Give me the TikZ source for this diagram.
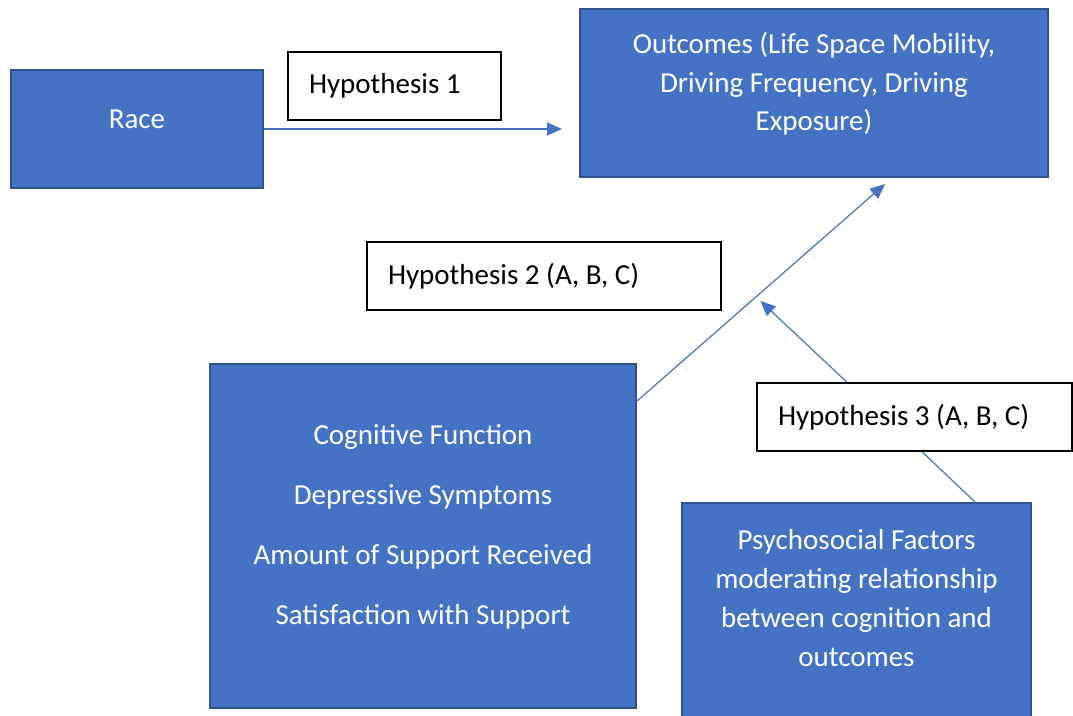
\documentclass[tikz,border=0pt]{standalone}
\usepackage{fontspec}
\setmainfont{Carlito}
\usetikzlibrary{arrows.meta}
\definecolor{mblue}{RGB}{68,114,196}
\definecolor{mborder}{RGB}{47,82,143}

\begin{document}
\begin{tikzpicture}[
    node distance=0pt,
    bluebox/.style={rectangle, draw=mborder, fill=mblue, line width=2pt},
    hypbox/.style={rectangle, draw=black, fill=white, line width=1.5pt, align=flush left, inner xsep=21pt, minimum height=68pt, font=\fontsize{29pt}{35pt}\selectfont},
    boxtext/.style={text=white, align=center, inner sep=0pt},
    link/.style={draw=mblue, line width=1.2pt},
    arr/.style={->, >={Triangle[length=15pt, width=13pt]}, link},
    ]
    \clip (-137pt,129pt) rectangle (936pt,-586pt);
    %Nodes
    \node[bluebox, minimum width=252pt, minimum height=118pt] (race) at (0,0) {};
    \node[hypbox, text width=171pt] (hyp1) [right of=race, xshift=257.5pt, yshift=43pt] {Hypothesis 1};
    \node[bluebox, minimum width=468pt, minimum height=168pt] (outcomes) [right of=hyp1, xshift=419.5pt, yshift=-7pt] {};
    \node[hypbox, text width=312pt] (hyp2) [below of=hyp1, xshift=149.5pt, yshift=-190pt] {Hypothesis 2 (A, B, C)};
    \node[bluebox, minimum width=426pt, minimum height=344pt] (cognitive) [below of=hyp2, xshift=-121pt, yshift=-260pt] {};
    \node[hypbox, text width=273pt] (hyp3) [right of=hyp2, xshift=370.5pt, yshift=-141pt] {Hypothesis 3 (A, B, C)};
    \node[bluebox, minimum width=349pt, minimum height=240pt] (psych) [right of=cognitive, xshift=433.5pt, yshift=-87pt] {};

    %Texts
    \node[boxtext, font=\fontsize{29pt}{35pt}\selectfont] (racetext) at ([yshift=9.5pt]race.center) {Race};
    \node[boxtext, font=\fontsize{29pt}{38.5pt}\selectfont] (outcomestext) at ([yshift=9pt]outcomes.center) {Outcomes (Life Space Mobility,\\ Driving Frequency, Driving\\ Exposure)};
    \node[boxtext, font=\fontsize{29pt}{60pt}\selectfont] (cognitivetext) at ([yshift=9.5pt]cognitive.center) {Cognitive Function\\ Depressive Symptoms\\ Amount of Support Received\\ Satisfaction with Support};
    \node[boxtext, font=\fontsize{29pt}{38.7pt}\selectfont] (psychtext) at ([yshift=-96pt]psych.north) {Psychosocial Factors\\ moderating relationship\\ between cognition and\\ outcomes};

    %Lines
    \draw[arr, shorten >=17pt] (race.east) -- (race.east -| outcomes.west);
    \draw[arr] ([yshift=-38pt]cognitive.north east) -- coordinate[pos=0.48] (hmid) ([xshift=71pt, yshift=-6pt]outcomes.south);
    \draw[link] ([xshift=118.5pt]psych.north) -- ([xshift=7.5pt]hyp3.south);
    \draw[arr, shorten >=6pt] ([xshift=-67.5pt]hyp3.north) -- (hmid);
\end{tikzpicture}
\end{document}
